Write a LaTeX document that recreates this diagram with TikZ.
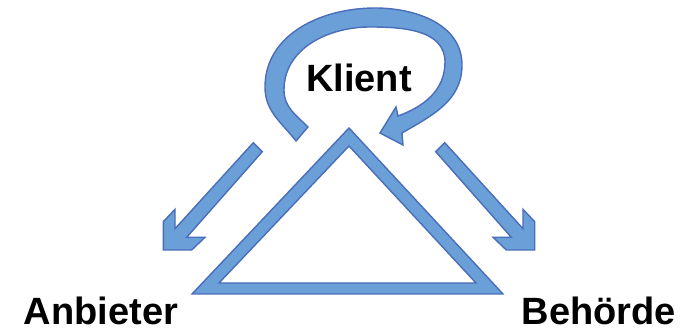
\documentclass[tikz,border=0pt]{standalone}
\usepackage{fontspec}
\setmainfont{Liberation Sans}
\definecolor{bfill}{HTML}{6A9FD8}
\definecolor{bline}{HTML}{4A6EB8}
\begin{document}
\begin{tikzpicture}[x=1pt,y=-1pt,
  blueshape/.style={fill=bfill,draw=bline,line width=1.4pt,line join=miter},
  lbl/.style={font=\bfseries\fontsize{38}{38}\selectfont,anchor=base,inner sep=0pt}]
\useasboundingbox (0,0) rectangle (680,328);
% triangle
\path[blueshape,even odd rule] (349,128) -- (503,294) -- (192,294) -- cycle
  (349,146) -- (219,283) -- (476,283) -- cycle;
% left arrow
\path[blueshape] (253.3,142.7) -- (262.3,151.7) -- (186.7,237.3) -- (205,237.3)
  -- (191.7,250) -- (163.3,250) -- (163.3,221.7) -- (175,209.3) -- (175,228.7) -- cycle;
% right arrow (mirror)
\path[blueshape] (444.7,142.7) -- (435.7,151.7) -- (511.3,237.3) -- (493,237.3)
  -- (506.3,250) -- (534.7,250) -- (534.7,221.7) -- (523,209.3) -- (523,228.7) -- cycle;
% circular arrow
\path[blueshape] (296,141) to[out=128,in=270] (265,87) to[out=90,in=180] (375,8)
  to[out=0,in=90] (462,65) to[out=270,in=30] (402,133)
  -- (403,145) -- (380,133) -- (396,107) -- (398,116)
  to[out=20,in=270] (445,62) to[out=90,in=0] (370,27)
  to[out=180,in=90] (284,90) to[out=270,in=135] (308,127) -- cycle;
\node[lbl] (k) at (359,92) {Klient};
\node[lbl] (a) at (101,325) {Anbieter};
\node[lbl] (b) at (599,325) {Behörde};
\end{tikzpicture}
\end{document}
